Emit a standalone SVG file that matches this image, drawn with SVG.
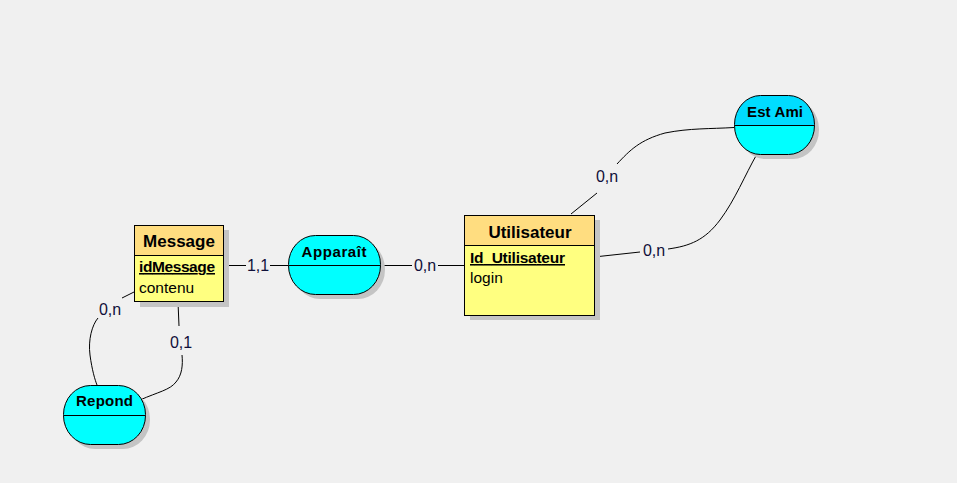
<svg xmlns="http://www.w3.org/2000/svg" width="957" height="483" viewBox="0 0 957 483">
<style>
.sh{fill:#c4c4c4}
.hdr{fill:#ffdd80;stroke:#000;stroke-width:1}
.body{fill:#ffff80;stroke:#000;stroke-width:1}
.asso{fill:#00ffff;stroke:#000;stroke-width:1}
.ttl{font-family:"Liberation Sans",Arial,sans-serif;font-weight:bold;fill:#000}
.attr{font-family:"Liberation Sans",Arial,sans-serif;font-size:15.5px;fill:#000}
.key{font-weight:bold;text-decoration:underline}
.lbl{font-family:"Liberation Sans",Arial,sans-serif;font-size:16px;fill:#10103a}
.cn{fill:none;stroke:#000;stroke-width:1}
</style>
<rect width="957" height="483" fill="#f0f0f0"/>
<g id="connectors">
<path class="cn" d="M224,265.5 H246 M270,265.5 H288"/>
<path class="cn" d="M380,265.5 H412 M438,265.5 H464"/>
<path class="cn" d="M571,214 L597,193 M617,164 C630,150 640,140 665,133 C690,128 710,129 734,127.5"/>
<path class="cn" d="M594,257 L640,252 M668,249 C690,246 705,240 720,220 C735,200 745,175 757,154"/>
<path class="cn" d="M134,292 L122,298 M98,318 C92,325 88,340 90,355 C92,370 95,380 97,385"/>
<path class="cn" d="M178,302 L179,326 M182,355 C183,365 182,375 176,382 C170,390 158,392 140,400"/>
<text class="lbl" x="258" y="271" text-anchor="middle">1,1</text>
<text class="lbl" x="425" y="271" text-anchor="middle">0,n</text>
<text class="lbl" x="607" y="182" text-anchor="middle">0,n</text>
<text class="lbl" x="654" y="256" text-anchor="middle">0,n</text>
<text class="lbl" x="110" y="315" text-anchor="middle">0,n</text>
<text class="lbl" x="181" y="348" text-anchor="middle">0,1</text>
</g>
<g id="message">
<rect class="sh" x="140" y="230" width="89" height="77"/>
<rect class="body" x="134.5" y="255.5" width="89" height="46"/>
<rect class="hdr" x="134.5" y="225.5" width="89" height="30"/>
<text class="ttl" x="179" y="247" font-size="17" text-anchor="middle">Message</text>
<text class="attr key" x="139" y="272" textLength="76">idMessage</text>
<text class="attr" x="139" y="293">contenu</text>
</g>
<g id="utilisateur">
<rect class="sh" x="470" y="220" width="130" height="100"/>
<rect class="body" x="464.5" y="245.5" width="130" height="70"/>
<rect class="hdr" x="464.5" y="215.5" width="130" height="30"/>
<text class="ttl" x="530" y="238" font-size="17" text-anchor="middle">Utilisateur</text>
<text class="attr key" x="470" y="263" textLength="95">Id_Utilisateur</text>
<text class="attr" x="470" y="283">login</text>
</g>
<g id="apparait">
<rect class="sh" x="293" y="240" width="92" height="59" rx="27" ry="29"/>
<rect class="asso" x="288.5" y="235.5" width="92" height="59" rx="27" ry="29"/>
<path d="M288.5,265.5 H380.5" stroke="#000" stroke-width="1"/>
<text class="ttl" x="334" y="257" font-size="15" text-anchor="middle" textLength="65">Apparaît</text>
</g>
<g id="estami">
<rect class="sh" x="739" y="100" width="80" height="59" rx="26" ry="29"/>
<path d="M734.5,125.5 V124.5 A26,29 0 0 1 760.5,95.5 H788.5 A26,29 0 0 1 814.5,124.5 V125.5 Z" fill="#00dcff" stroke="#000"/>
<path d="M734.5,125.5 V125.5 A26,29 0 0 0 760.5,154.5 H788.5 A26,29 0 0 0 814.5,125.5 Z" fill="#00ffff" stroke="#000"/>
<text class="ttl" x="775" y="117" font-size="15" text-anchor="middle" textLength="56">Est Ami</text>
</g>
<g id="repond">
<rect class="sh" x="68" y="390" width="82" height="59" rx="27" ry="29"/>
<rect class="asso" x="63.5" y="385.5" width="82" height="59" rx="27" ry="29"/>
<path d="M63.5,415.5 H145.5" stroke="#000" stroke-width="1"/>
<text class="ttl" x="104.5" y="406" font-size="15" text-anchor="middle" textLength="57">Repond</text>
</g>
</svg>
